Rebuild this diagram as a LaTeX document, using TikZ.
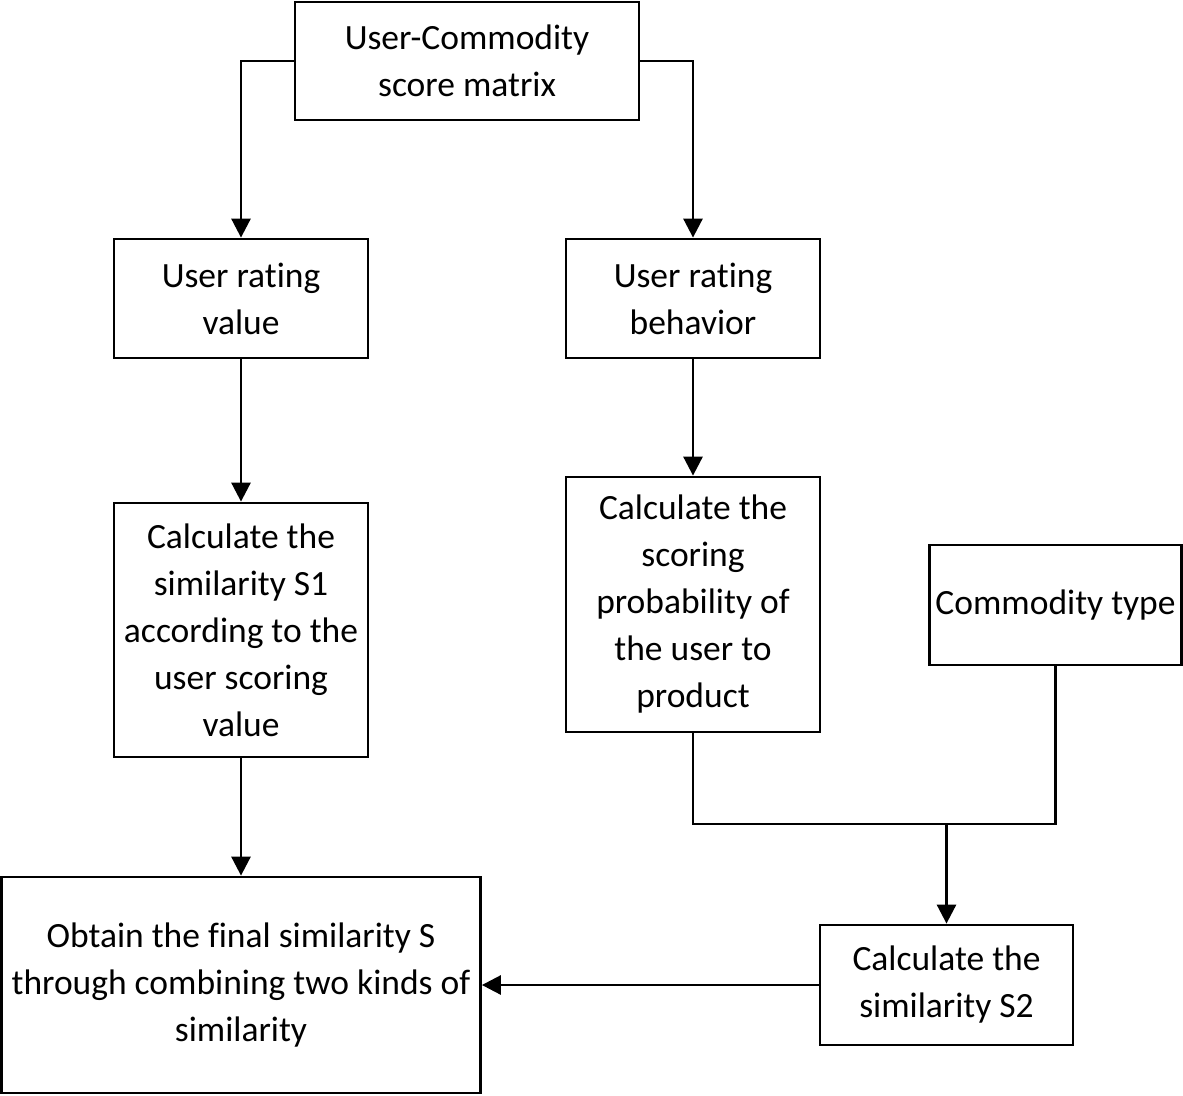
\documentclass[tikz,border=0pt]{standalone}
\usepackage{fontspec}
\setmainfont{Carlito}[RawFeature={-liga}]
\usetikzlibrary{arrows.meta}
\begin{document}
\begin{tikzpicture}[x=1pt,y=-1pt,
  box/.style={draw,line width=2.8pt,align=center,inner sep=0pt,
    font=\fontsize{35.5}{47}\selectfont},
  arr/.style={line width=2.8pt,-{Triangle[width=19pt,length=19pt]}},
  ln/.style={line width=2.8pt}]
\useasboundingbox (0,0) rectangle (1183,1095);
\node[box,minimum width=344pt,minimum height=118pt] (top) at (467,61) {User-Commodity\\score matrix};
\node[box,minimum width=254pt,minimum height=119pt] (urv) at (241,298.5) {User rating\\value};
\node[box,minimum width=254pt,minimum height=119pt] (urb) at (693,298.5) {User rating\\behavior};
\node[box,minimum width=254pt,minimum height=254pt] (s1) at (241,630) {Calculate the\\similarity S1\\according to the\\user scoring\\value};
\node[box,minimum width=254pt,minimum height=255pt] (prob) at (693,604.5) {Calculate the\\scoring\\probability of\\the user to\\product};
\node[box,minimum width=252pt,minimum height=120pt] (ctype) at (1055.5,605) {Commodity type};
\node[box,minimum width=479pt,minimum height=216pt] (final) at (241,985) {Obtain the final similarity S\\through combining two kinds of\\similarity};
\node[box,minimum width=253pt,minimum height=120pt] (s2) at (946.5,985) {Calculate the\\similarity S2};
\coordinate (j) at (946.5,824);
\draw[arr] (top.west) -| (urv.north);
\draw[arr] (top.east) -| (urb.north);
\draw[arr] (urv.south) -- (s1.north);
\draw[arr] (urb.south) -- (prob.north);
\draw[arr] (s1.south) -- (final.north);
\draw[ln] (prob.south) |- (j);
\draw[ln] (ctype.south) |- (j);
\draw[arr] (j) -- (s2.north);
\draw[arr] (s2.west) -- (final.east);
\end{tikzpicture}
\end{document}
